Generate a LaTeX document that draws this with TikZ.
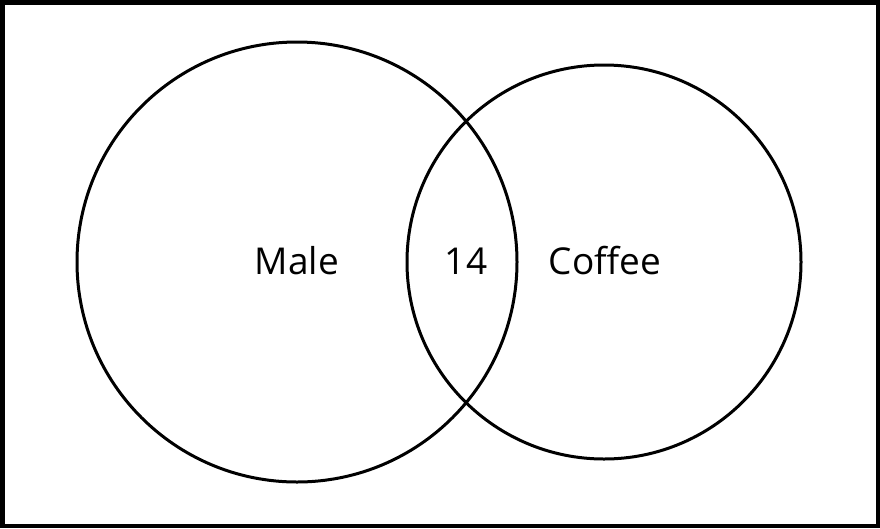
\documentclass[tikz,border=0pt]{standalone}
\usepackage{fontspec}
\setmainfont{Open Sans}
\usetikzlibrary{positioning}
\tikzset{
  setcircle/.style={draw, circle, line width=3pt, inner sep=0pt},
  setlabel/.style={font=\fontsize{37}{44}\selectfont, inner sep=0pt},
  frame/.style={draw, line width=4.5pt},
}
\begin{document}
\begin{tikzpicture}[x=1pt, y=-1pt]
\useasboundingbox (0,0) rectangle (880,528);
\draw[frame] (2.25,2.25) rectangle (877.75,525.75);
% the two sets
\node[setcircle, minimum size=440pt] (male) at (297,262) {};
\node[setcircle, minimum size=394pt] (coffee) at (604,262) {};
% labels
\node[setlabel] (malelbl) at (297,261) {Male};
\node[setlabel] (both) at (466,261) {14};
\node[setlabel] (coffeelbl) at (605,261) {Coffee};
\end{tikzpicture}
\end{document}
